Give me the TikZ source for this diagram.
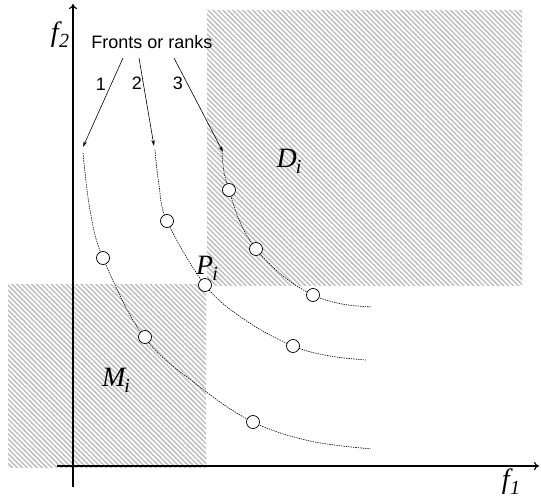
\documentclass[tikz,border=0pt]{standalone}
\usepackage{fontspec}
\setmainfont{Liberation Sans}
\newfontfamily\tnr{Liberation Serif}
\usetikzlibrary{patterns.meta,arrows.meta}
\begin{document}
\begin{tikzpicture}[x=1pt,y=-1pt,
  hatch/.style={pattern={Lines[angle=-45,distance=3.5pt,line width=1.5pt]},pattern color=black!25},
  axis/.style={line width=1.1pt,-{To[length=5pt,width=8pt]}},
  front/.style={line width=0.6pt,dash pattern=on 1.4pt off 1pt},
  pt/.style={circle,draw,fill=white,line width=0.7pt,minimum size=13pt,inner sep=0pt},
  ptr/.style={line width=0.6pt,-{Stealth[length=6pt,width=3.5pt]}},
  lab/.style={font=\fontsize{18}{18}\selectfont,inner sep=0pt},
  mlab/.style={font=\tnr\itshape\fontsize{28}{28}\selectfont,inner sep=0pt}]
\useasboundingbox (0,0) rectangle (541,500);
% regions
\fill[hatch] (207,11) rectangle (522,285);
\fill[hatch] (8,284) rectangle (206,467);
% axes
\coordinate (xs) at (57,466); \coordinate (xe) at (539,466);
\coordinate (ys) at (73,487); \coordinate (ye) at (73,4);
\draw[axis] (xs) -- (xe);
\draw[axis] (ys) -- (ye);
\node[mlab] (f2) at (60,35) {f\kern0.5pt\raisebox{-6pt}{\fontsize{20}{20}\selectfont 2}};
\node[mlab] (f1) at (511,482) {f\kern0.5pt\raisebox{-6pt}{\fontsize{20}{20}\selectfont 1}};
% fronts
\draw[front] plot[smooth,tension=0.6] coordinates {(83,153) (90,210) (103,258) (144,337) (200,387) (253,422) (310,441) (372,449)};
\draw[front] plot[smooth,tension=0.6] coordinates {(155,150) (159,185) (167,221) (205,285) (245,320) (293,346) (330,356) (366,360)};
\draw[front] plot[smooth,tension=0.6] coordinates {(222,153) (224,172) (229,190) (240,222) (256,249) (283,276) (313,295) (342,304) (372,307)};
% points
\node[pt] (a1) at (103,258) {};
\node[pt] (a2) at (145,337) {};
\node[pt] (a3) at (253,422) {};
\node[pt] (b1) at (167,221) {};
\node[pt] (b2) at (205,285) {};
\node[pt] (b3) at (293,346) {};
\node[pt] (c1) at (229,190) {};
\node[pt] (c2) at (256,249) {};
\node[pt] (c3) at (313,295) {};
% labels
\node[lab] (fr) at (152,42) {Fronts or ranks};
\coordinate (s1) at (123,58); \coordinate (e1) at (83,147);
\coordinate (s2) at (139,58); \coordinate (e2) at (154,146);
\coordinate (s3) at (174,58); \coordinate (e3) at (223,152);
\draw[ptr] (s1) -- (e1);
\draw[ptr] (s2) -- (e2);
\draw[ptr] (s3) -- (e3);
\node[lab] (n1) at (101,84) {1};
\node[lab] (n2) at (137,83) {2};
\node[lab] (n3) at (178,83) {3};
\node[mlab] (Di) at (289,161) {D\kern-1pt\raisebox{-6pt}{\fontsize{20}{20}\selectfont i}};
\node[mlab] (Mi) at (116,380) {M\kern-1pt\raisebox{-6pt}{\fontsize{20}{20}\selectfont i}};
\node[mlab] (Pi) at (207,268) {P\kern-1pt\raisebox{-6pt}{\fontsize{20}{20}\selectfont i}};
\end{tikzpicture}
\end{document}
